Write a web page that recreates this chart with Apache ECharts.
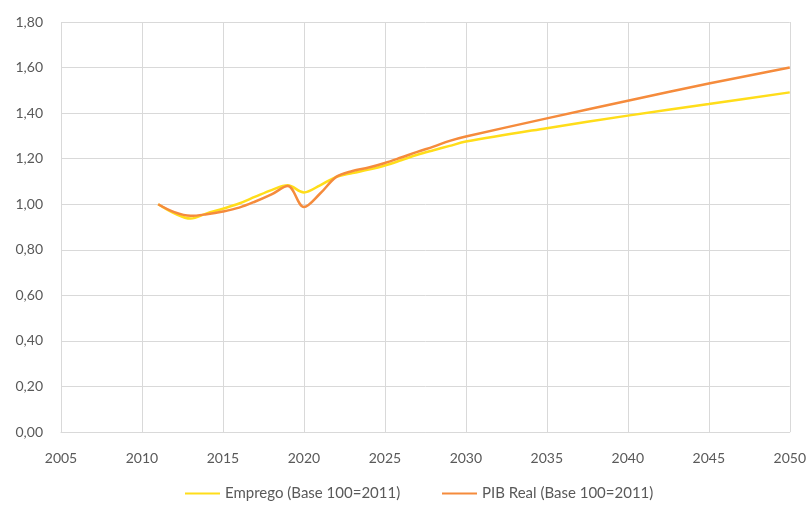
<!DOCTYPE html>
<html><head><meta charset="utf-8">
<script src="https://cdn.jsdelivr.net/npm/echarts@6/dist/echarts.min.js"></script>
<style>html,body{margin:0;padding:0;background:#fff}#c{width:809px;height:506px}</style>
</head><body><div id="c"></div>
<script>
const years = [2011,2012,2013,2014,2015,2016,2017,2018,2019,2020,2021,2022,2023,2024,2025,2026,2027,2028,2029,2030,2035,2040,2045,2050];
const emprego = [1.00,0.96,0.937,0.96,0.98,1.003,1.033,1.062,1.083,1.052,1.083,1.12,1.137,1.152,1.17,1.193,1.217,1.237,1.256,1.275,1.334,1.389,1.44,1.491];
const pib = [1.00,0.965,0.949,0.956,0.968,0.985,1.012,1.043,1.08,0.988,1.047,1.12,1.146,1.161,1.181,1.205,1.23,1.253,1.278,1.297,1.377,1.454,1.53,1.60];
const seriesNames = ['Emprego (Base 100=2011)','PIB Real (Base 100=2011)'];
const yTicks = {min:0,max:1.8,interval:0.2};
const xTicks = {min:2005,max:2050,interval:5};

const font = 'Lato, "Noto Sans", sans-serif';
const legendText = {color:'#595959',fontSize:15,fontFamily:font};
const chart = echarts.init(document.getElementById('c'));
chart.setOption({
  animation:false,
  grid:{left:61,right:19,top:22,bottom:74,containLabel:false},
  legend:[
    {bottom:0,left:180,data:[seriesNames[0]],icon:'rect',itemWidth:35,itemHeight:2,textStyle:legendText},
    {bottom:0,left:437,data:[seriesNames[1]],icon:'rect',itemWidth:35,itemHeight:2,textStyle:legendText}
  ],
  xAxis:{
    type:'value',min:xTicks.min,max:xTicks.max,interval:xTicks.interval,
    axisLine:{show:true,lineStyle:{color:'#d9d9d9'}},
    axisTick:{show:false},
    splitLine:{show:true,lineStyle:{color:'#d9d9d9',width:1}},
    axisLabel:{color:'#595959',fontSize:14,fontFamily:font,margin:19,formatter:v=>String(v)}
  },
  yAxis:{
    type:'value',min:yTicks.min,max:yTicks.max,interval:yTicks.interval,
    axisLine:{show:false},axisTick:{show:false},
    splitLine:{show:true,lineStyle:{color:'#d9d9d9',width:1}},
    axisLabel:{color:'#595959',fontSize:14,fontFamily:font,margin:18,formatter:v=>v.toFixed(2).replace('.',',')}
  },
  series:[
    {name:seriesNames[0],type:'line',data:years.map((y,i)=>[y,emprego[i]]),smooth:0.35,showSymbol:false,
     lineStyle:{color:'#FFDD1A',width:2.5},itemStyle:{color:'#FFDD1A'}},
    {name:seriesNames[1],type:'line',data:years.map((y,i)=>[y,pib[i]]),smooth:0.35,showSymbol:false,
     lineStyle:{color:'#F58B3C',width:2.5},itemStyle:{color:'#F58B3C'}}
  ]
});
</script></body></html>
